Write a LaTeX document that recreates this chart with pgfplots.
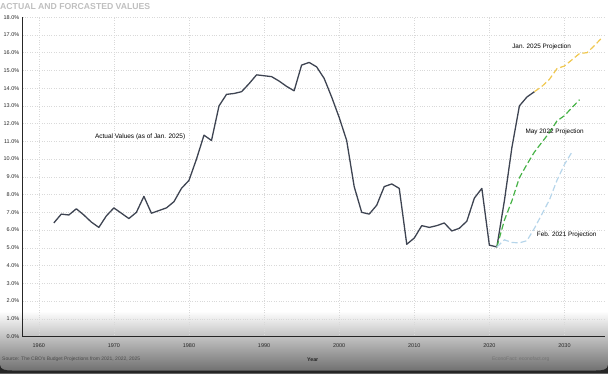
\documentclass[border=0pt]{standalone}
\usepackage{pgfplots}
\pgfplotsset{compat=1.18}
\usepackage{fontspec}
\setmainfont{Liberation Sans}
\definecolor{actual}{RGB}{62,68,82}
\definecolor{jan25}{RGB}{240,200,80}
\definecolor{may22}{RGB}{70,178,70}
\definecolor{feb21}{RGB}{182,213,234}
\begin{document}
\begin{tikzpicture}[x=1bp,y=1bp]
\useasboundingbox (0,0) rectangle (608,373);
\shade[top color=white,bottom color=black!58] (0,0) rectangle (608,62);
\fill[black!85] (0,0) -- (0,8) to[out=-90,in=180] (12,2.5) -- (596,2.5) to[out=0,in=-90] (608,8) -- (608,0) -- cycle;
\node[anchor=west,inner sep=0,font=\bfseries\fontsize{8.7}{10}\selectfont,text=black!25] at (0,366) {ACTUAL AND FORCASTED VALUES};
\begin{axis}[
  at={(22.7bp,36.5bp)}, anchor=south west,
  scale only axis, width=582.3bp, height=319.3bp,
  xmin=1957.86, xmax=2035.4, ymin=0, ymax=18,
  axis lines=left, axis line style={-, black!85, line width=1bp},
  xtick={1960,1970,...,2030}, ytick={0,1,...,18},
  major tick length=0,
  grid=major, major grid style={dotted, black!15, line width=0.5bp},
  tick label style={font=\fontsize{5.5}{6}\selectfont, text=black!85},
  /pgf/number format/assume math mode=true,
  /pgf/number format/1000 sep={},
  yticklabel={\pgfmathprintnumber[fixed,fixed zerofill,precision=1]{\tick}\%},
  xticklabel style={yshift=-4bp},
  clip=false,
]
\addplot[actual, line width=1.3bp, line join=round] coordinates {
(1962,6.4) (1963,6.9) (1964,6.85) (1965,7.2) (1966,6.85) (1967,6.45) (1968,6.15) (1969,6.8)
(1970,7.25) (1971,6.95) (1972,6.65) (1973,7.0) (1974,7.9) (1975,6.95) (1976,7.1) (1977,7.25)
(1978,7.6) (1979,8.35) (1980,8.8) (1981,10.0) (1982,11.35) (1983,11.05) (1984,13.0) (1985,13.65)
(1986,13.7) (1987,13.8) (1988,14.25) (1989,14.75) (1990,14.7) (1991,14.65) (1992,14.4) (1993,14.1)
(1994,13.85) (1995,15.3) (1996,15.45) (1997,15.2) (1998,14.55) (1999,13.5) (2000,12.35) (2001,11.05)
(2002,8.45) (2003,7.0) (2004,6.9) (2005,7.4) (2006,8.45) (2007,8.6) (2008,8.35) (2009,5.2)
(2010,5.55) (2011,6.25) (2012,6.15) (2013,6.25) (2014,6.4) (2015,5.95) (2016,6.1) (2017,6.5)
(2018,7.8) (2019,8.35) (2020,5.15) (2021,5.05) (2022,7.65) (2023,10.65) (2024,13.0) (2025,13.5) (2026,13.8)
};
\addplot[jan25, line width=1.2bp, dash pattern=on 6bp off 3bp] coordinates {
(2026,13.8) (2027,14.1) (2028,14.5) (2029,15.1) (2030,15.25) (2031,15.6) (2032,15.95) (2033,16.0) (2034,16.4) (2035,16.85)
};
\addplot[may22, line width=1.2bp, dash pattern=on 6bp off 3bp] coordinates {
(2021,5.05) (2022,6.55) (2023,7.65) (2024,8.95) (2025,9.7) (2026,10.4) (2027,10.95) (2028,11.5) (2029,12.15) (2030,12.45) (2031,12.9) (2032,13.35)
};
\addplot[feb21, line width=1.2bp, dash pattern=on 6bp off 3bp] coordinates {
(2021,5.05) (2022,5.45) (2023,5.3) (2024,5.28) (2025,5.4) (2026,6.1) (2027,6.9) (2028,7.7) (2029,8.8) (2030,9.7) (2031,10.4)
};
\node[font=\fontsize{6.5}{7}\selectfont] at (axis cs:1973.5,11.23) {Actual Values (as of Jan. 2025)};
\node[font=\fontsize{6.4}{7}\selectfont] at (axis cs:2026.96,16.31) {Jan. 2025 Projection};
\node[font=\fontsize{6.4}{7}\selectfont] at (axis cs:2028.7,11.56) {May 2022 Projection};
\node[font=\fontsize{6.4}{7}\selectfont] at (axis cs:2030.3,5.75) {Feb. 2021 Projection};
\end{axis}
\node[anchor=west,inner sep=0,font=\fontsize{5}{6}\selectfont,text=black!70] at (2,14) {Source: The CBO's Budget Projections from 2021, 2022, 2025};
\node[inner sep=0,font=\bfseries\fontsize{5.3}{6}\selectfont,text=black!85] at (312.7,13.5) {Year};
\node[inner sep=0,font=\fontsize{5}{6}\selectfont,text=black!55] at (520.7,14) {EconoFact: econofact.org};
\end{tikzpicture}
\end{document}
